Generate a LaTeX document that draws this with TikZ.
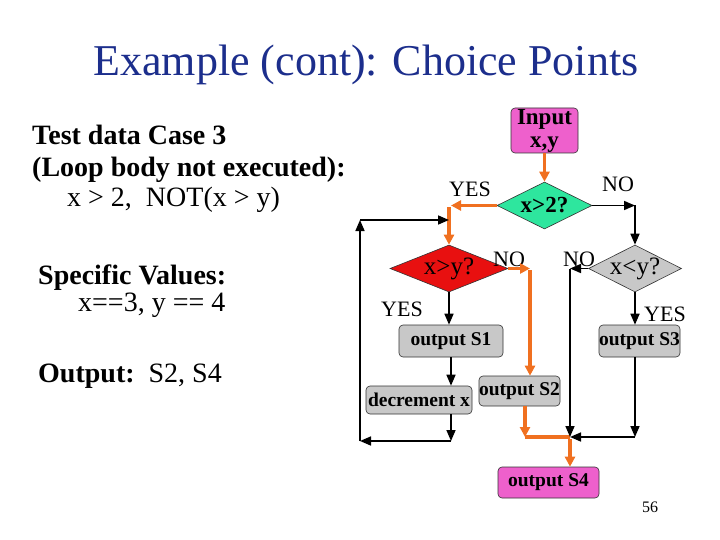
\documentclass[tikz,border=0pt]{standalone}
\usepackage{fontspec}
\setmainfont{Liberation Serif}
\usetikzlibrary{shapes.geometric,arrows.meta}
\definecolor{titleblue}{RGB}{28,46,140}
\definecolor{mag}{RGB}{238,96,204}
\definecolor{grn}{RGB}{46,230,158}
\definecolor{redd}{RGB}{232,16,16}
\definecolor{gry}{RGB}{200,200,200}
\definecolor{orng}{RGB}{240,112,32}
\begin{document}
\begin{tikzpicture}[x=1pt,y=-1pt,
 box/.style={draw=black!80, rounded corners=4pt, line width=0.6pt, inner sep=0pt, font=\fontsize{19.5}{21}\selectfont\bfseries},
 dia/.style={diamond, draw=black!80, line width=0.6pt, inner sep=0pt},
 barr/.style={line width=1.6pt, -{Triangle[length=11pt,width=9pt]}},
 oarr/.style={line width=3.8pt, draw=orng, -{Triangle[length=10pt,width=10pt]}},
 oline/.style={line width=3.8pt, draw=orng},
 lbl/.style={font=\fontsize{22}{22}\selectfont, inner sep=0pt},
 lefttxt/.style={anchor=base west, inner sep=0pt, font=\fontsize{28}{31}\selectfont},
 leftbold/.style={lefttxt, font=\fontsize{28}{31}\selectfont\bfseries},
]
\useasboundingbox (0,0) rectangle (720,540);

% title
\node[anchor=base, inner sep=0pt, font=\fontsize{44}{44}\selectfont, text=titleblue] (title) at (366,76) {Example (cont): Choice Points};

% left text
\node[leftbold] (l1) at (32,145) {Test data Case 3};
\node[leftbold] (l2) at (32,177) {(Loop body not executed):};
\node[lefttxt] (l3) at (67,207) {x > 2,\ \ NOT(x > y)};
\node[leftbold] (l4) at (38,284) {Specific Values:};
\node[lefttxt] (l5) at (78,311) {x==3, y == 4};
\node[lefttxt] (l6) at (38,382) {\textbf{Output:}\ \ S2, S4};

% flowchart nodes
\node[box, fill=mag, minimum width=67pt, minimum height=45pt, align=center, font=\fontsize{23}{23}\selectfont\bfseries] (inp) at (544.5,130.5) {Input\\x,y};

\node[dia, fill=grn, minimum width=95pt, minimum height=47pt] (d1) at (544.5,205.5) {};
\node[inner sep=0pt, font=\fontsize{23}{23}\selectfont\bfseries] (t1) at (d1) {x>2?};

\node[dia, fill=redd, minimum width=118pt, minimum height=47pt] (d2) at (449,268.5) {};
\node[inner sep=0pt, font=\fontsize{25}{25}\selectfont] (t2) at (d2) {x>y?};

\node[dia, fill=gry, minimum width=93pt, minimum height=47pt] (d3) at (635,268.5) {};
\node[inner sep=0pt, font=\fontsize{25}{25}\selectfont] (t3) at (d3) {x<y?};

\node[box, fill=gry, minimum width=104pt, minimum height=32pt] (s1) at (451,341) {output S1};
\node[box, fill=gry, minimum width=81pt, minimum height=32pt] (s3) at (639.5,341) {output S3};
\node[box, fill=gry, minimum width=106pt, minimum height=28pt] (dec) at (419,400) {decrement x};
\node[box, fill=gry, minimum width=81pt, minimum height=30pt] (s2) at (519.5,391) {output S2};
\node[box, fill=mag, minimum width=101pt, minimum height=31pt] (s4) at (548.5,482.5) {output S4};

% labels
\node[lbl] (yes1) at (470,189) {YES};
\node[lbl] (no1) at (618,184) {NO};
\node[lbl] (no2) at (509,259) {NO};
\node[lbl] (no3) at (579,259) {NO};
\node[lbl] (yes2) at (402,309) {YES};
\node[lbl] (yes3) at (665,314) {YES};

\node[inner sep=0pt, font=\fontsize{16}{16}\selectfont] (pg) at (650,507) {56};

% coordinates
\coordinate (c1) at (d2.north |- d1.west);
\coordinate (c2) at (d3.north |- d1.east);
\coordinate (c3) at (530,268.5);
\coordinate (c4) at (570,268.5);
\coordinate (jn) at (570,437);
\coordinate (c5) at (d3.south |- jn);
\coordinate (c6) at (525,437);
\coordinate (lb1) at (451,441);
\coordinate (lb2) at (360,441);
\coordinate (lt) at (360,220);
\coordinate (lt2) at (d2.north |- lt);

% orange path
\draw[oarr] (inp.south) -- (d1.north);
\draw[oarr, shorten >=2pt] (d1.west) -- (c1);
\draw[oarr] ([yshift=-1.9pt]c1) -- (d2.north);
\draw[oarr] (d2.east) -- (c3);
\draw[oarr] ([yshift=-1.9pt]c3) -- (c3 |- s2.north);
\draw[oarr] (c6 |- s2.south) -- (c6);
\draw[oline] (c6) -- (jn);
\draw[oarr] ([yshift=-1.9pt]jn) -- (jn |- s4.north);

% black paths
\draw[barr] (d1.east) -- (c2);
\draw[barr] (c2) -- (d3.north);
\draw[barr] (d2.south) -- (d2.south |- s1.north);
\draw[barr] (s1.south) -- (s1.south |- dec.north);
\draw[barr] (s1.south |- dec.south) -- (lb1);
\draw[barr] (lb1) -- (lb2);
\draw[barr] (lb2) -- (lt);
\draw[barr] (lt) -- (lt2);
\draw[barr] (d3.west) -- (c4);
\draw[barr] (c4) -- (jn);
\draw[barr] (d3.south) -- (d3.south |- s3.north);
\draw[barr] (d3.south |- s3.south) -- (c5);
\draw[barr] (c5) -- (jn);
\end{tikzpicture}
\end{document}
